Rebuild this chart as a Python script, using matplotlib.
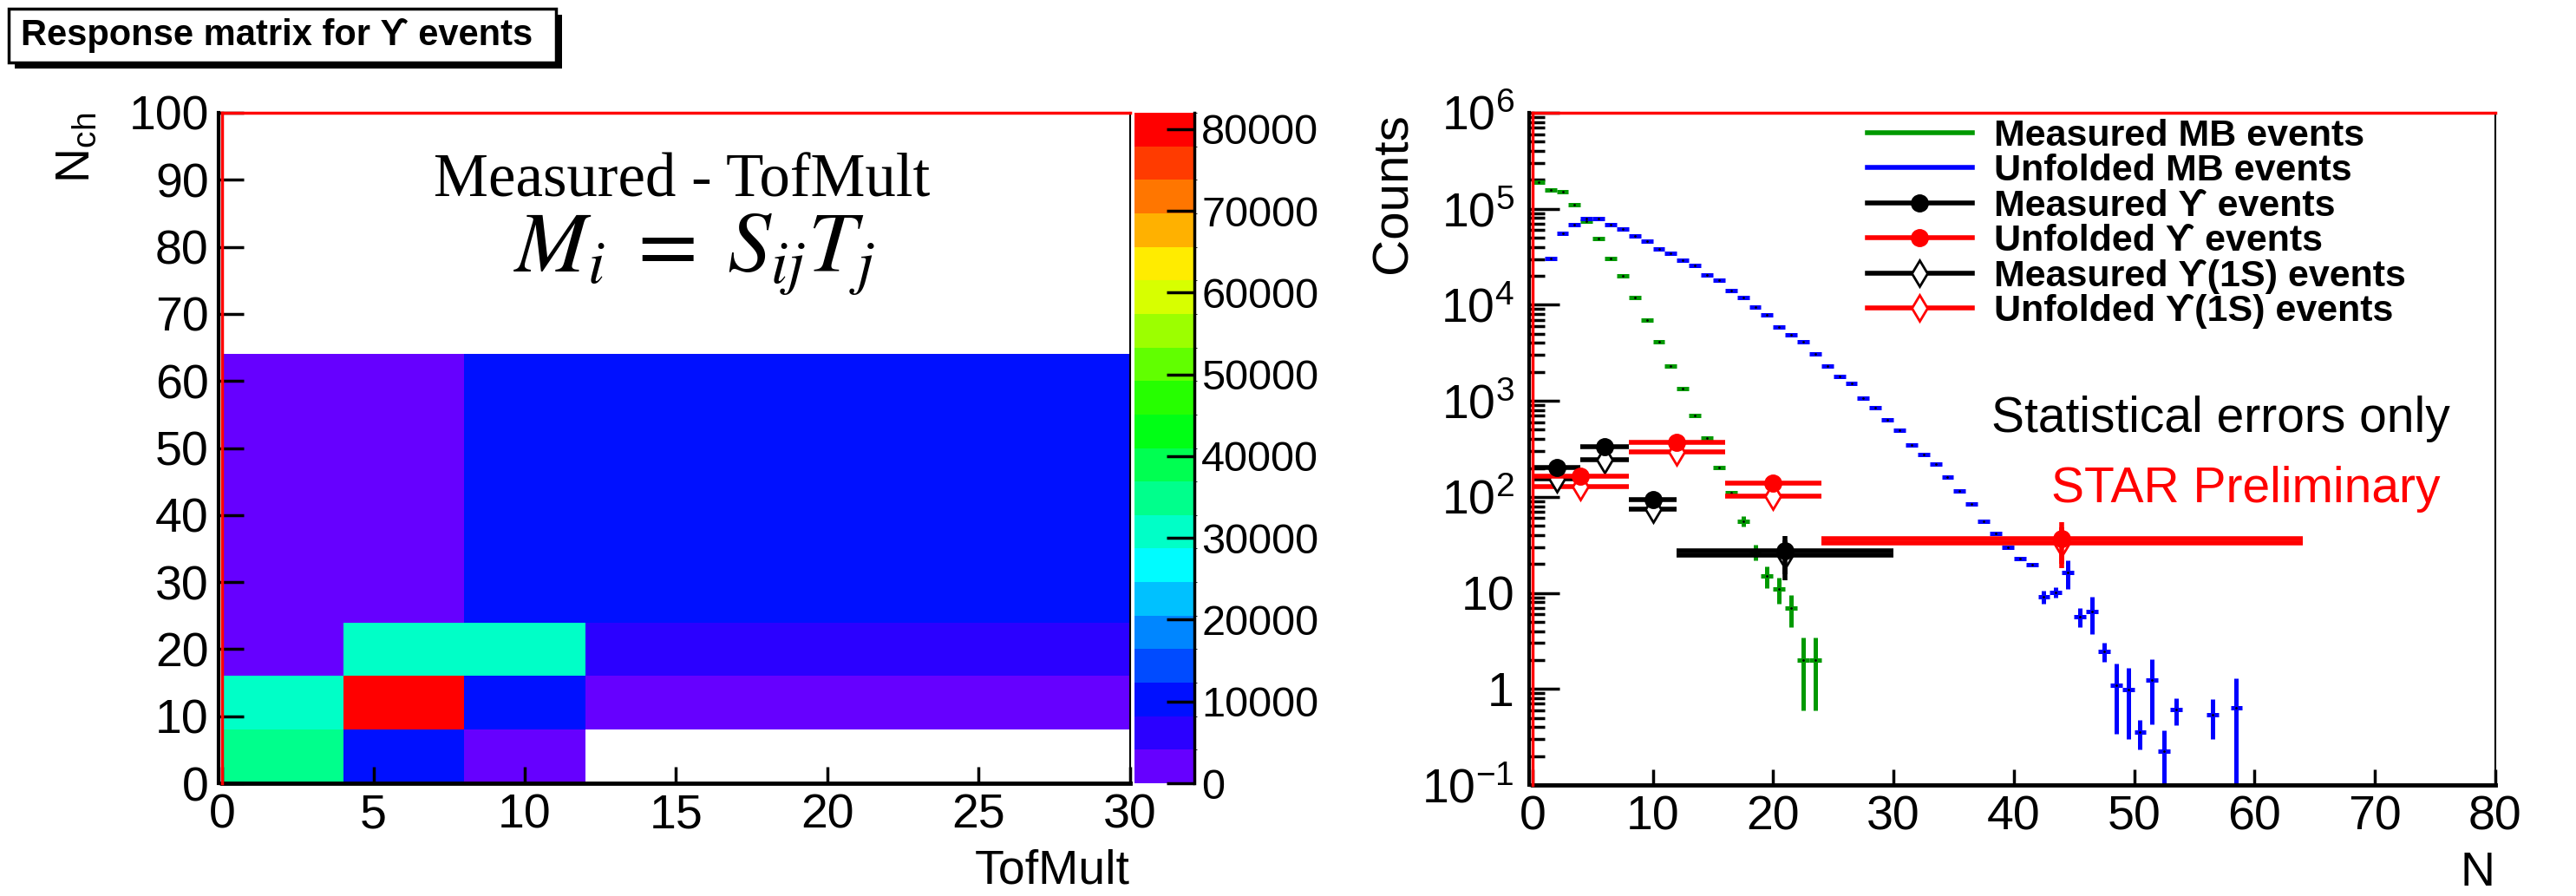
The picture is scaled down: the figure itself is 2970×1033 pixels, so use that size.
import matplotlib
matplotlib.use("Agg")
import matplotlib.pyplot as plt
import numpy as np
from matplotlib.colors import ListedColormap, BoundaryNorm, hsv_to_rgb
from matplotlib.lines import Line2D
from matplotlib.patches import Rectangle
from matplotlib.ticker import LogLocator, NullFormatter

plt.rcParams['font.family'] = ['Liberation Sans', 'DejaVu Sans']

# ---- response matrix (left) ----
tof_edges = [0, 4, 8, 12, 30]
nch_edges = [0, 8, 16, 24, 64]
# rows = Nch bins, columns = TofMult bins (0 = empty bin)
resp_counts = [
    [35000, 10000, 2000, 0],
    [30500, 80000, 10000, 2000],
    [2000, 30500, 30500, 6000],
    [2000, 2000, 10000, 10000],
]
cbar_ticks = [0, 10000, 20000, 30000, 40000, 50000, 60000, 70000, 80000]

# ---- multiplicity distributions (right) ----
meas_mb_n = [0.5, 1.5, 2.5, 3.5, 4.5, 5.5, 6.5, 7.5, 8.5, 9.5, 10.5, 11.5,
             12.5, 13.5, 14.5, 15.5, 16.5, 17.5, 18.5, 19.5, 20.5, 21.5, 22.5, 23.5]
meas_mb = [1.9e5, 1.58e5, 1.49e5, 1.1e5, 7.4e4, 4.9e4, 3.05e4, 2.01e4, 1.19e4, 6960,
           4100, 2290, 1350, 701, 414, 204, 111, 56, 27, 15, 11, 7, 2, 2]
meas_mb_err = [0, 0, 0, 0, 0, 0, 0, 0, 0, 0, 0, 0, 0, 0, 0, 0, 0,
               7, 5, 3.8, 3.3, 2.6, 1.4, 1.4]

unf_mb_n = [1.5, 2.5, 3.5, 4.5, 5.5, 6.5, 7.5, 8.5, 9.5, 10.5, 11.5, 12.5, 13.5,
            14.5, 15.5, 16.5, 17.5, 18.5, 19.5, 20.5, 21.5, 22.5, 23.5, 24.5, 25.5,
            26.5, 27.5, 28.5, 29.5, 30.5, 31.5, 32.5, 33.5, 34.5, 35.5, 36.5, 37.5,
            38.5, 39.5, 40.5, 41.5, 42.5, 43.5, 44.5, 45.5, 46.5, 47.5, 48.5, 49.5,
            50.5, 51.5, 52.5, 53.5, 56.5, 58.5]
unf_mb = [3.05e4, 5.5e4, 6.9e4, 7.86e4, 7.86e4, 6.9e4, 6.15e4, 5.17e4, 4.59e4, 3.83e4,
          3.43e4, 2.89e4, 2.57e4, 2.03e4, 1.8e4, 1.42e4, 1.19e4, 9400, 7900, 5900,
          4900, 4100, 3080, 2290, 1810, 1520, 1060, 841, 629, 497, 349, 277, 218,
          162, 115, 84, 56, 41.6, 29.6, 23, 19.8, 9.1, 10.2, 16.4, 5.7, 6.4, 2.46,
          1.09, 0.98, 0.356, 1.23, 0.224, 0.61, 0.54, 0.64]
unf_mb_err = [0] * 41 + [1.4, 1.2, 5.5, 1.3, 2.7, 0.55, 0.75, 0.68, 0.12, 0.8,
                         0.15, 0.19, 0.24, 0.65]

meas_ups_edges = [0, 4, 8, 12, 30]
meas_ups = [203, 336, 94, 27.5]
meas_ups_err = [20, 25, 14, 12]
meas_1s = [153, 246, 75, 24.5]
meas_1s_err = [17, 21, 12, 11]

unf_ups_edges = [0, 8, 16, 24, 64]
unf_ups = [164, 371, 138, 37]
unf_ups_err = [25, 40, 25, 17]
unf_1s = [129, 292, 101, 33]
unf_1s_err = [22, 35, 20, 15]

log_ticks = [1e-1, 1, 10, 1e2, 1e3, 1e4, 1e5, 1e6]
log_labels = [r'$\mathregular{10^{-1}}$', '1', '10', r'$\mathregular{10^{2}}$',
              r'$\mathregular{10^{3}}$', r'$\mathregular{10^{4}}$',
              r'$\mathregular{10^{5}}$', r'$\mathregular{10^{6}}$']

TICK_FS = 40

fig = plt.figure(figsize=(29.7, 10.33), dpi=100)


def root_frame(ax):
    # ROOT-like frame: black axis lines, red frame on left/top
    ax.spines['left'].set_position(('outward', 3))
    ax.spines['left'].set_linewidth(3)
    ax.spines['bottom'].set_linewidth(3.5)
    ax.spines['right'].set_linewidth(1.5)
    ax.spines['top'].set_color('red')
    ax.spines['top'].set_linewidth(2.5)
    ax.axvline(ax.get_xlim()[0], color='red', lw=2.5, zorder=6, clip_on=False)


# ---- left: response matrix ----
ax1 = fig.add_axes([0.0862, 0.1258, 0.3525, 0.7484])
hues = np.linspace(264 / 360, 0, 20)
cmap = ListedColormap(hsv_to_rgb(np.column_stack([hues, np.ones(20), np.ones(20)])))
norm = BoundaryNorm(np.linspace(0, 82000, 21), cmap.N)
z = np.ma.masked_equal(np.array(resp_counts, dtype=float), 0)
mesh = ax1.pcolormesh(tof_edges, nch_edges, z, cmap=cmap, norm=norm)
ax1.set_xlim(0, 30)
ax1.set_ylim(0, 100)
ax1.set_xticks(range(0, 31, 5))
ax1.set_yticks(range(0, 101, 10))
ax1.tick_params(axis='y', direction='in', length=21, width=2.5, labelsize=TICK_FS, pad=8)
ax1.tick_params(axis='x', direction='in', length=14, width=2.5, labelsize=TICK_FS, pad=8)
root_frame(ax1)
ax1.set_xlabel('TofMult', fontsize=TICK_FS, loc='right')
ax1.xaxis.set_label_coords(1.0, -0.098)
ax1.set_ylabel(r'$\mathregular{N_{ch}}$', fontsize=TICK_FS, loc='top')
ax1.yaxis.set_label_coords(-0.134, 1.0)

ax1.text(0.506, 0.898, 'Measured - TofMult', transform=ax1.transAxes,
         ha='center', va='center', family='Liberation Serif', fontsize=51)
ax1.text(0.52, 0.788, r'$M_i\;=\;S_{ij}T_j$', transform=ax1.transAxes,
         ha='center', va='center', fontsize=72, math_fontfamily='stix')

cax = fig.add_axes([0.4404, 0.1258, 0.0232, 0.7484])
cb = fig.colorbar(mesh, cax=cax, ticks=cbar_ticks)
cb.outline.set_linewidth(0)
cax.set_yticklabels([str(t) for t in cbar_ticks])
cax.tick_params(direction='in', length=23, width=2.5, labelsize=35, pad=6)
cax.plot([1, 1], [0, 1], transform=cax.transAxes, color='black', lw=2.5, clip_on=False)

# title box with drop shadow
fig.patches.append(Rectangle((0.0034 + 0.0024, 0.9303 - 0.0068), 0.2125, 0.060,
                             transform=fig.transFigure, facecolor='black', zorder=1))
fig.patches.append(Rectangle((0.0034, 0.9303), 0.2125, 0.060, transform=fig.transFigure,
                             facecolor='white', edgecolor='black', lw=2.5, zorder=2))
fig.text(0.008, 0.9603, 'Response matrix for ϒ events', ha='left', va='center',
         fontsize=30, fontweight='bold', zorder=3)

# ---- right: multiplicity distributions ----
ax2 = fig.add_axes([0.5949, 0.1239, 0.3737, 0.7503])
ax2.set_yscale('log')
ax2.set_xlim(0, 80)
ax2.set_ylim(0.1, 1e6)

ax2.errorbar(meas_mb_n, meas_mb, xerr=0.5, yerr=meas_mb_err, fmt='.', color='black',
             ms=2, ecolor='#009900', elinewidth=3.6, capsize=0)
ax2.errorbar(unf_mb_n, unf_mb, xerr=0.5, yerr=unf_mb_err, fmt='.', color='black',
             ms=2, ecolor='#0000ff', elinewidth=3.6, capsize=0)


def ups_hist(edges, vals, errs, color, marker):
    e = np.array(edges, dtype=float)
    ctr = 0.5 * (e[1:] + e[:-1])
    half = 0.5 * (e[1:] - e[:-1])
    if marker == 'o':
        ax2.errorbar(ctr, vals, xerr=half, yerr=errs, fmt='o', color=color, ms=14,
                     elinewidth=4, capsize=0, zorder=5)
    else:
        ax2.errorbar(ctr, vals, xerr=half, yerr=errs, fmt='d', color=color, mfc='white',
                     mec=color, mew=2, ms=15, elinewidth=4, capsize=0, zorder=4)


ups_hist(meas_ups_edges, meas_1s, meas_1s_err, 'black', 'd')
ups_hist(unf_ups_edges, unf_1s, unf_1s_err, 'red', 'd')
ups_hist(meas_ups_edges, meas_ups, meas_ups_err, 'black', 'o')
ups_hist(unf_ups_edges, unf_ups, unf_ups_err, 'red', 'o')

ax2.set_xticks(range(0, 81, 10))
ax2.set_yticks(log_ticks)
ax2.set_yticklabels(log_labels)
ax2.yaxis.set_minor_locator(LogLocator(base=10, subs=np.arange(2, 10), numticks=20))
ax2.yaxis.set_minor_formatter(NullFormatter())
ax2.tick_params(axis='y', which='major', direction='in', length=25, width=2.5,
                labelsize=TICK_FS, pad=12)
ax2.tick_params(axis='y', which='minor', direction='in', length=13, width=2.5)
ax2.tick_params(axis='x', direction='in', length=13, width=2.5, labelsize=TICK_FS, pad=8)
root_frame(ax2)
ax2.set_xlabel('N', fontsize=TICK_FS, loc='right')
ax2.xaxis.set_label_coords(1.0, -0.098)
ax2.set_ylabel('Counts', fontsize=42, loc='top')
ax2.yaxis.set_label_coords(-0.12, 1.0)

handles = [
    Line2D([], [], color='#009900', lw=4),
    Line2D([], [], color='#0000ff', lw=4),
    Line2D([], [], color='black', lw=4, marker='o', ms=14),
    Line2D([], [], color='red', lw=4, marker='o', ms=14),
    Line2D([], [], color='black', lw=4, marker='d', ms=15, mfc='white', mew=2),
    Line2D([], [], color='red', lw=4, marker='d', ms=15, mfc='white', mew=2),
]
labels = ['Measured MB events', 'Unfolded MB events', 'Measured ϒ events',
          'Unfolded ϒ events', 'Measured ϒ(1S) events', 'Unfolded ϒ(1S) events']
ax2.legend(handles, labels, loc='upper left', bbox_to_anchor=(0.348, 0.991),
           frameon=False, borderpad=0, borderaxespad=0, handlelength=2.8,
           handletextpad=0.6, labelspacing=0.01,
           prop={'family': ['Liberation Sans', 'DejaVu Sans'], 'weight': 'bold', 'size': 31})

ax2.text(0.715, 0.5445, 'Statistical errors only', transform=ax2.transAxes,
         ha='center', va='center', fontsize=41)
ax2.text(0.741, 0.44, 'STAR Preliminary', transform=ax2.transAxes,
         ha='center', va='center', fontsize=41, color='red')

fig.savefig('out.png', dpi=100)
